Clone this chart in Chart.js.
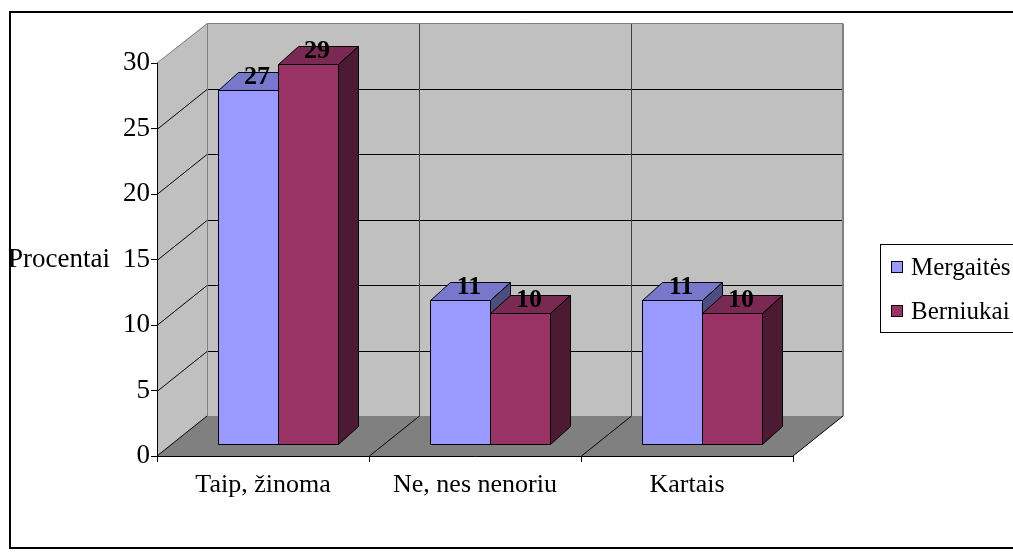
<!DOCTYPE html>
<html>
<head>
<meta charset="utf-8">
<script src="https://cdn.jsdelivr.net/npm/chart.js@4.4.0/dist/chart.umd.min.js"></script>
<style>
  html, body { margin: 0; padding: 0; background: #fff; }
  #wrap { width: 1013px; height: 556px; position: relative; }
</style>
</head>
<body>
<div id="wrap"><canvas id="chart"></canvas></div>
<script>
const categories = ["Taip, žinoma", "Ne, nes nenoriu", "Kartais"];
const girls = [27, 11, 11];
const boys = [29, 10, 10];
const seriesNames = ["Mergaitės", "Berniukai"];
const yTicks = [0, 5, 10, 15, 20, 25, 30];
const axisTitle = "Procentai";

const FONT = "'Liberation Serif', 'Times New Roman', serif";
const DX = 50, DY = -40;            // depth of the walls
const BAR_DX = 20, BAR_DY = -18;    // depth of one bar
const SHIFT_X = 15, SHIFT_Y = -12;  // bars stand inside the floor

const faces = [
  { front: "#9999FF", top: "#7777CC", side: "#4D4D80" },
  { front: "#993366", top: "#7A2952", side: "#4D1A33" },
];

function path(ctx, pts) {
  ctx.beginPath();
  pts.forEach((p, i) => i ? ctx.lineTo(p[0], p[1]) : ctx.moveTo(p[0], p[1]));
}

const box3d = {
  id: "box3d",
  beforeDraw(chart) {
    const { ctx, chartArea: a, scales: { y } } = chart;
    const L = a.left, R = a.right, T = a.top, B = a.bottom;
    ctx.save();
    // outer frame
    ctx.strokeStyle = "#000";
    ctx.lineWidth = 2;
    ctx.strokeRect(10, 12, 1100, 536);

    // walls + floor
    ctx.fillStyle = "#C0C0C0";
    path(ctx, [[L, B], [L, T], [L + DX, T + DY], [L + DX, B + DY]]);
    ctx.closePath(); ctx.fill();
    ctx.fillRect(L + DX, T + DY, R - L, B - T);
    ctx.fillStyle = "#808080";
    path(ctx, [[L, B], [R, B], [R + DX, B + DY], [L + DX, B + DY]]);
    ctx.closePath(); ctx.fill();

    // value gridlines on side + back wall
    ctx.lineWidth = 1;
    ctx.strokeStyle = "#000";
    y.ticks.forEach(t => {
      if (t.value === y.min || t.value === y.max) return;
      const py = Math.round(y.getPixelForValue(t.value)) + 0.5;
      path(ctx, [[L, py], [L + DX, py + DY], [R + DX, py + DY]]);
      ctx.stroke();
    });

    // category dividers on floor and back wall
    const n = chart.data.labels.length;
    for (let i = 1; i < n; i++) {
      const px = Math.round(L + (R - L) * i / n) + 0.5;
      ctx.strokeStyle = "#000";
      path(ctx, [[px, B], [px + DX, B + DY]]);
      ctx.stroke();
      ctx.strokeStyle = "#404040";
      path(ctx, [[px + DX, B + DY], [px + DX, T + DY]]);
      ctx.stroke();
    }

    // floor edges
    ctx.strokeStyle = "#000";
    path(ctx, [[L, B], [L + DX, B + DY]]);
    ctx.stroke();
    path(ctx, [[R, B], [R + DX, B + DY]]);
    ctx.stroke();

    // wall outlines
    ctx.strokeStyle = "#808080";
    const bl = L + DX + 0.5, bt = T + DY + 0.5;
    path(ctx, [[L, T], [bl, bt], [R + DX, bt]]);
    ctx.stroke();
    path(ctx, [[bl, bt], [bl, B + DY]]);
    ctx.stroke();
    ctx.lineWidth = 2;
    path(ctx, [[R + DX, bt], [R + DX, B + DY]]);
    ctx.stroke();

    // axis title
    ctx.fillStyle = "#000";
    ctx.font = "27px " + FONT;
    ctx.textAlign = "left";
    ctx.textBaseline = "middle";
    ctx.fillText(axisTitle, 8, (T + B) / 2);
    ctx.restore();
  },
  beforeDatasetsDraw(chart) {
    chart.ctx.save();
    chart.ctx.translate(SHIFT_X, SHIFT_Y);
  },
  afterDatasetsDraw(chart) {
    const ctx = chart.ctx;
    ctx.lineWidth = 1;
    ctx.strokeStyle = "#000";
    ctx.lineJoin = "miter";
    const n = chart.data.labels.length;
    const metas = chart.data.datasets.map((d, i) => chart.getDatasetMeta(i));
    for (let j = 0; j < n; j++) {
      metas.forEach((meta, di) => {
        const p = meta.data[j].getProps(["x", "y", "base", "width"], true);
        const x0 = Math.round(p.x - p.width / 2) + 0.5, x1 = Math.round(p.x + p.width / 2) + 0.5;
        const top = Math.round(p.y) + 0.5, bot = Math.round(p.base) + 0.5;
        const c = faces[di];
        ctx.fillStyle = c.front;
        path(ctx, [[x0, bot], [x0, top], [x1, top], [x1, bot]]);
        ctx.closePath(); ctx.fill(); ctx.stroke();
        ctx.fillStyle = c.top;
        path(ctx, [[x0, top], [x0 + BAR_DX, top + BAR_DY], [x1 + BAR_DX, top + BAR_DY], [x1, top]]);
        ctx.closePath(); ctx.fill(); ctx.stroke();
        ctx.fillStyle = c.side;
        path(ctx, [[x1, top], [x1 + BAR_DX, top + BAR_DY], [x1 + BAR_DX, bot + BAR_DY], [x1, bot]]);
        ctx.closePath(); ctx.fill(); ctx.stroke();
      });
    }
    // value labels
    ctx.fillStyle = "#000";
    ctx.font = "bold 26px " + FONT;
    ctx.textAlign = "center";
    ctx.textBaseline = "alphabetic";
    metas.forEach((meta, di) => {
      meta.data.forEach((bar, j) => {
        const p = bar.getProps(["x", "y"], true);
        ctx.fillText(String(chart.data.datasets[di].data[j]), p.x + 9, p.y - 6);
      });
    });
    ctx.restore();
  },
  afterDraw(chart) {
    const ctx = chart.ctx;
    ctx.save();
    ctx.strokeStyle = "#000";
    ctx.lineWidth = 1;
    ctx.strokeRect(880.5, 244.5, 200, 88);
    ctx.font = "25px " + FONT;
    ctx.textAlign = "left";
    ctx.textBaseline = "middle";
    chart.data.datasets.forEach((ds, i) => {
      const cy = 267 + i * 44;
      ctx.fillStyle = ds.backgroundColor;
      ctx.fillRect(891, cy - 6, 12, 12);
      ctx.strokeRect(891.5, cy - 5.5, 11, 11);
      ctx.fillStyle = "#000";
      ctx.fillText(ds.label, 911, cy + 1);
    });
    ctx.restore();
  },
};

new Chart(document.getElementById("chart"), {
  type: "bar",
  data: {
    labels: categories,
    datasets: [
      { label: seriesNames[0], data: girls, backgroundColor: faces[0].front },
      { label: seriesNames[1], data: boys, backgroundColor: faces[1].front },
    ],
  },
  options: {
    responsive: true,
    maintainAspectRatio: false,
    animation: false,
    layout: { padding: { left: 0, top: 63, right: 220, bottom: 0 } },
    datasets: { bar: { categoryPercentage: 0.566, barPercentage: 1, borderWidth: 0 } },
    plugins: { legend: { display: false }, tooltip: { enabled: false } },
    scales: {
      x: {
        grid: { offset: true, drawOnChartArea: false, tickLength: 6, color: "#000" },
        border: { color: "#000" },
        ticks: { color: "#000", font: { family: FONT, size: 26 }, padding: 8, maxRotation: 0 },
        afterFit(s) { s.height = 100; },
      },
      y: {
        min: 0,
        max: 30,
        grid: { drawOnChartArea: false, tickLength: 6, color: "#000" },
        border: { color: "#000" },
        ticks: { color: "#000", font: { family: FONT, size: 27 }, padding: 1 },
        afterBuildTicks(s) { s.ticks = yTicks.map(v => ({ value: v })); },
        afterFit(s) { s.width = 157; },
      },
    },
  },
  plugins: [box3d],
});
</script>
</body>
</html>
